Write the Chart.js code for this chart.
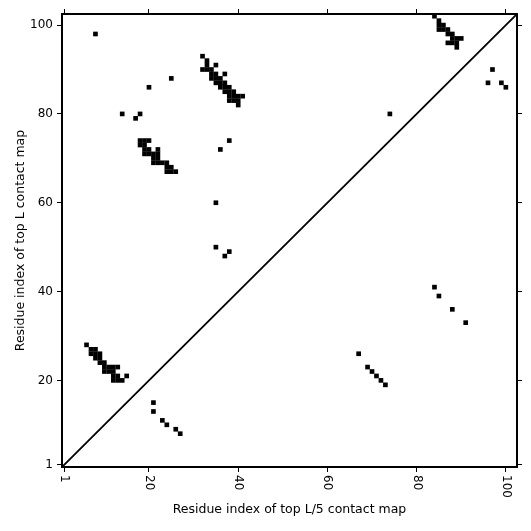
<!DOCTYPE html>
<html><head><meta charset="utf-8">
<script src="https://cdn.jsdelivr.net/npm/chart.js@4.4.0/dist/chart.umd.min.js"></script>
<style>html,body{margin:0;padding:0;background:#fff;}</style>
</head><body>
<canvas id="c" width="531" height="531"></canvas>
<script>
const axisMin = 0.5;
const axisMax = 102.5;
const tickValues = [1, 20, 40, 60, 80, 100];
const xTitle = 'Residue index of top L/5 contact map';
const yTitle = 'Residue index of top L contact map';

// residue pairs (x = residue i, y = residue j)
const contactX = [
  8, 20, 25, 14, 18, 17, 36, 38, 35, 35, 38, 37, 74,
  32, 33, 33, 35, 32, 33, 34, 34, 35, 37, 34, 35, 36, 35, 36, 37, 36, 37, 38, 37, 38, 39, 38, 39, 40, 41, 38, 39, 40, 40,
  18, 19, 20, 18, 19, 19, 20, 22, 19, 20, 21, 22, 21, 22, 21, 22, 23, 24, 24, 25, 24, 25, 26,
  84, 85, 85, 86, 85, 86, 87, 87, 88, 88, 89, 90, 87, 88, 89, 89,
  6, 7, 8, 7, 8, 9, 8, 9, 9, 10, 10, 11, 12, 13, 10, 11, 12, 12, 13, 12, 13, 14, 15,
  21, 21, 23, 24, 26, 27,
  84, 85, 88, 91, 67, 69, 70, 71, 72, 73, 96, 97, 99, 100
];
const contactY = [
  98, 86, 88, 80, 80, 79, 72, 74, 60, 50, 49, 48, 80,
  93, 92, 91, 91, 90, 90, 90, 89, 89, 89, 88, 88, 88, 87, 87, 87, 86, 86, 86, 85, 85, 85, 84, 84, 84, 84, 83, 83, 83, 82,
  74, 74, 74, 73, 73, 72, 72, 72, 71, 71, 71, 71, 70, 70, 69, 69, 69, 69, 68, 68, 67, 67, 67,
  102, 101, 100, 100, 99, 99, 99, 98, 98, 97, 97, 97, 96, 96, 96, 95,
  28, 27, 27, 26, 26, 26, 25, 25, 24, 24, 23, 23, 23, 23, 22, 22, 22, 21, 21, 20, 20, 20, 21,
  15, 13, 11, 10, 9, 8,
  41, 39, 36, 33, 26, 23, 22, 21, 20, 19, 87, 90, 87, 86
];

class CWLinearScale extends Chart.LinearScale {
  _computeLabelItems(chartArea) {
    const items = super._computeLabelItems(chartArea);
    for (const it of items) {
      const lh = it.font.lineHeight;
      it.options.rotation = Math.abs(it.options.rotation);
      it.options.textAlign = 'left';
      it.options.translation = [it.options.translation[0] + lh, it.options.translation[1]];
    }
    return items;
  }
}
CWLinearScale.id = 'linearCW';
CWLinearScale.defaults = {};
Chart.register(CWLinearScale);

const points = contactX.map((x, i) => ({ x: x, y: contactY[i] }));
const diagonal = [{ x: axisMin, y: axisMin }, { x: axisMax, y: axisMax }];

const tickFont = { family: 'DejaVu Sans', size: 12 };
const titleFont = { family: 'DejaVu Sans', size: 12.5 };
const setTicks = s => { s.ticks = tickValues.map(v => ({ value: v })); };
const gridOpts = { drawOnChartArea: false, drawTicks: true, tickLength: 5, tickColor: '#000', tickWidth: 1 };
const borderOpts = { display: true, color: '#000', width: 2 };

new Chart(document.getElementById('c'), {
  type: 'scatter',
  data: {
    datasets: [
      {
        data: points,
        pointStyle: 'rect',
        pointRadius: 3.3,
        pointHoverRadius: 3.3,
        borderWidth: 0,
        backgroundColor: '#000',
        borderColor: '#000'
      },
      {
        type: 'line',
        data: diagonal,
        borderColor: '#000',
        borderWidth: 1.8,
        pointRadius: 0,
        fill: false
      }
    ]
  },
  options: {
    responsive: false,
    animation: false,
    devicePixelRatio: 1,
    layout: { padding: 0 },
    plugins: { legend: { display: false }, tooltip: { enabled: false } },
    scales: {
      x: {
        type: 'linearCW', position: 'bottom', min: axisMin, max: axisMax,
        afterBuildTicks: setTicks,
        afterFit: s => { s.height = 64; },
        ticks: { autoSkip: false, minRotation: 90, maxRotation: 90, padding: 3, color: '#000', font: tickFont, callback: v => String(v) },
        grid: gridOpts, border: borderOpts,
        title: { display: true, text: xTitle, color: '#000', font: titleFont, padding: { top: 0, bottom: 13.5 } }
      },
      y: {
        type: 'linear', position: 'left', min: axisMin, max: axisMax,
        afterBuildTicks: setTicks,
        afterFit: s => { s.width = 62; },
        ticks: { autoSkip: false, padding: 4, color: '#000', font: tickFont, callback: v => String(v) },
        grid: gridOpts, border: borderOpts,
        title: { display: true, text: yTitle, color: '#000', font: titleFont, padding: { top: 13.5, bottom: 0 } }
      },
      x2: {
        type: 'linear', position: 'top', min: axisMin, max: axisMax,
        afterBuildTicks: setTicks,
        afterFit: s => { s.height = 14; },
        ticks: { display: false },
        grid: gridOpts, border: borderOpts
      },
      y2: {
        type: 'linear', position: 'right', min: axisMin, max: axisMax,
        afterBuildTicks: setTicks,
        afterFit: s => { s.width = 14; },
        ticks: { display: false },
        grid: gridOpts, border: borderOpts
      }
    }
  }
});
</script>
</body></html>
